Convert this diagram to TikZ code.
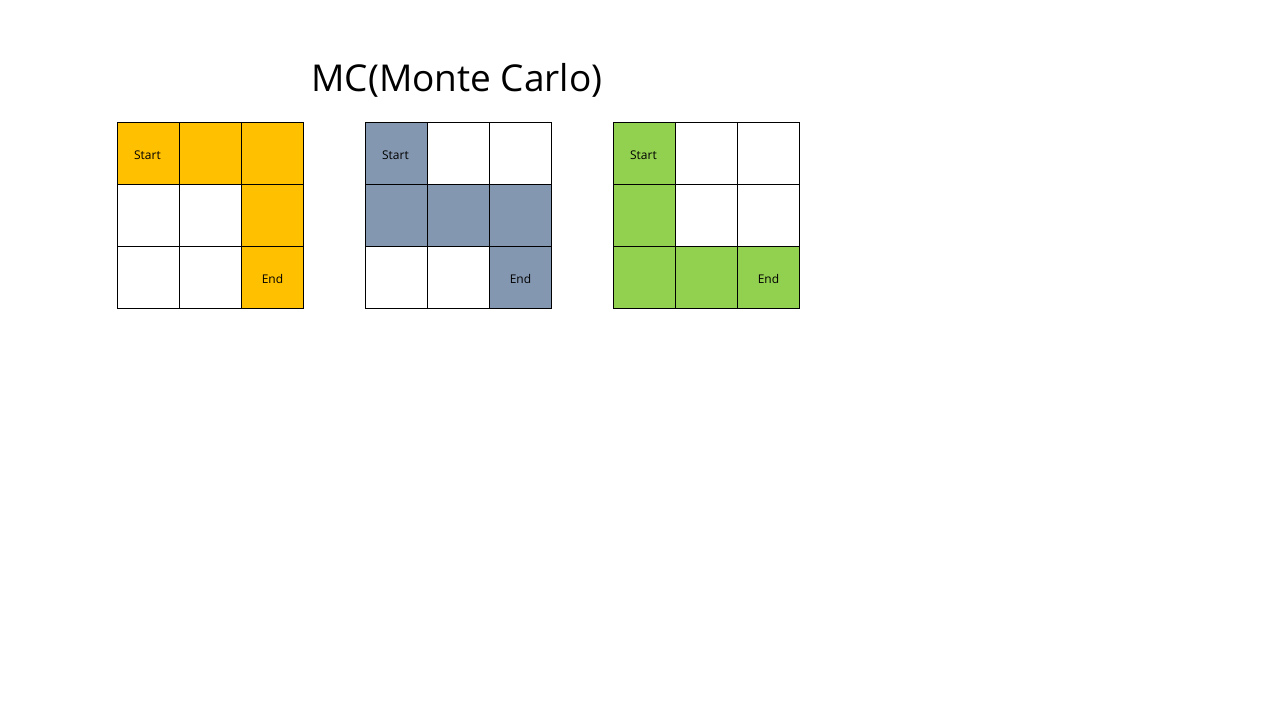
\documentclass[tikz,border=0pt]{standalone}
\usepackage{fontspec}
\setmainfont{Open Sans}
\definecolor{mcorange}{HTML}{FFC000}
\definecolor{mcblue}{HTML}{8497B0}
\definecolor{mcgreen}{HTML}{92D050}
\begin{document}
\begin{tikzpicture}[x=1pt,y=-1pt,
  cell/.style={draw=black,line width=0.9pt,minimum size=62pt,inner sep=0pt,anchor=north west,font=\fontsize{12}{14}\selectfont},
  lbl/.style={font=\fontsize{12}{14}\selectfont,yshift=-2pt},
  title/.style={font=\fontsize{37}{44}\selectfont}]
\useasboundingbox (0,0) rectangle (1280,720);
\node[title] (t) at (457,80) {MC(Monte Carlo)};
% grid A (orange)
\foreach \r in {0,1,2}{\foreach \c in {0,1,2}{
  \node[cell] (a\r\c) at (117+62*\c,122+62*\r) {};}}
\foreach \n in {a00,a01,a02,a12,a22}{\node[cell,fill=mcorange] at (\n.north west) {};}
% grid B (blue)
\foreach \r in {0,1,2}{\foreach \c in {0,1,2}{
  \node[cell] (b\r\c) at (365+62*\c,122+62*\r) {};}}
\foreach \n in {b00,b10,b11,b12,b22}{\node[cell,fill=mcblue] at (\n.north west) {};}
% grid C (green)
\foreach \r in {0,1,2}{\foreach \c in {0,1,2}{
  \node[cell] (c\r\c) at (613+62*\c,122+62*\r) {};}}
\foreach \n in {c00,c10,c20,c21,c22}{\node[cell,fill=mcgreen] at (\n.north west) {};}
\foreach \g in {a,b,c}{
  \node[lbl] (\g s) at ([xshift=-1pt]\g00.center) {Start};
  \node[lbl] (\g e) at (\g22.center) {End};}
\end{tikzpicture}
\end{document}
